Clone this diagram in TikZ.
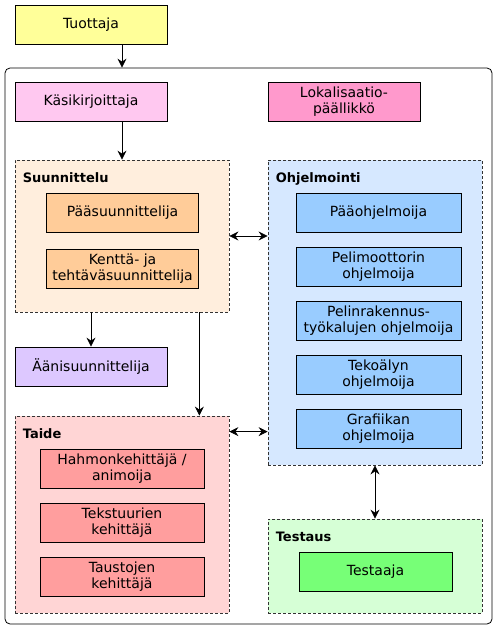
\documentclass[tikz,border=0pt]{standalone}
\usepackage{fontspec}
\setmainfont{DejaVu Sans}
\usetikzlibrary{arrows.meta}

\definecolor{tuotcol}{HTML}{FFFF99}
\definecolor{kasicol}{HTML}{FFC8F0}
\definecolor{lokacol}{HTML}{FF99CC}
\definecolor{suunbg}{HTML}{FFEEDD}
\definecolor{suuncol}{HTML}{FFCC99}
\definecolor{aanicol}{HTML}{DDC8FF}
\definecolor{taidebg}{HTML}{FFD5D5}
\definecolor{taidecol}{HTML}{FF9E9E}
\definecolor{ohjbg}{HTML}{D6E8FF}
\definecolor{ohjcol}{HTML}{99CCFF}
\definecolor{testbg}{HTML}{D6FFD6}
\definecolor{testcol}{HTML}{77FF77}

\begin{document}
\begin{tikzpicture}[x=1pt, y=-1pt]

\tikzstyle{role}=[rectangle, draw=black, line width=0.8pt, minimum width=152pt, minimum height=39pt, inner sep=0pt, align=center, font=\fontsize{14}{16.5}\selectfont]
\tikzstyle{group}=[rectangle, draw=black!80, line width=0.8pt, dash pattern=on 3pt off 2pt, minimum width=214pt, inner sep=0pt]
\tikzstyle{grouptitle}=[anchor=base west, inner sep=0pt, font=\fontsize{13}{16}\selectfont\bfseries]

\tikzstyle{connect}=[-{Stealth[length=9pt, width=9pt, inset=3pt]}, line width=0.8pt]
\tikzstyle{both}=[{Stealth[length=9pt, width=9pt, inset=3pt]}-{Stealth[length=9pt, width=9pt, inset=3pt]}, line width=0.8pt]

\useasboundingbox (0,0) rectangle (497,630);

\node[role, fill=tuotcol] (tuottaja) at (91,24.5) {Tuottaja};

\node[draw=black, line width=0.8pt, rounded corners=5pt, minimum width=487pt, minimum height=556pt, inner sep=0pt] (studio) at (248.5,346) {};

\node[role, fill=kasicol] (kasikirj) at (91,101.5) {Käsikirjoittaja};
\node[role, fill=lokacol] (lokal) at (344,101.5) {Lokalisaatio-\\päällikkö};

% suunnittelu
\node[group, fill=suunbg, minimum height=152pt] (suunn) at (122,236) {};
\node[grouptitle] (suunnT) at ([shift={(8pt,-23pt)}]suunn.north west) {Suunnittelu};
\node[role, fill=suuncol] (paasuunn) at (122.5,213) {Pääsuunnittelija};
\node[role, fill=suuncol] (kentta) at (122.5,268.5) {Kenttä- ja\\tehtäväsuunnittelija};

\node[role, fill=aanicol] (aani) at (91,366.5) {Äänisuunnittelija};

% taide
\node[group, fill=taidebg, minimum height=197pt] (taide) at (122,514.5) {};
\node[grouptitle] (taideT) at ([shift={(8pt,-23pt)}]taide.north west) {Taide};
\node[role, fill=taidecol, minimum width=164pt] (hahmo) at (122,468.5) {Hahmonkehittäjä /\\animoija};
\node[role, fill=taidecol, minimum width=164pt] (tekst) at (122,522.5) {Tekstuurien\\kehittäjä};
\node[role, fill=taidecol, minimum width=164pt] (taust) at (122,576.5) {Taustojen\\kehittäjä};

% ohjelmointi
\node[group, fill=ohjbg, minimum height=305pt] (ohjelm) at (375,312.5) {};
\node[grouptitle] (ohjelmT) at ([shift={(8pt,-23pt)}]ohjelm.north west) {Ohjelmointi};
\node[role, fill=ohjcol, minimum width=165pt] (paaohj) at (378.5,212.5) {Pääohjelmoija};
\node[role, fill=ohjcol, minimum width=165pt] (pelim) at (378.5,266.5) {Pelimoottorin\\ohjelmoija};
\node[role, fill=ohjcol, minimum width=165pt] (pelinr) at (378.5,320.5) {Pelinrakennus-\\työkalujen ohjelmoija};
\node[role, fill=ohjcol, minimum width=165pt] (tekoaly) at (378.5,374.5) {Tekoälyn\\ohjelmoija};
\node[role, fill=ohjcol, minimum width=165pt] (grafiikka) at (378.5,428.5) {Grafiikan\\ohjelmoija};

% testaus
\node[group, fill=testbg, minimum height=94pt] (testaus) at (375,566) {};
\node[grouptitle] (testausT) at ([shift={(8pt,-23pt)}]testaus.north west) {Testaus};
\node[role, fill=testcol, minimum width=153pt] (testaaja) at (375.5,571.5) {Testaaja};


\draw[connect] (tuottaja.south -| suunn) -- (studio.north -| suunn);
\draw[connect] (kasikirj.south -| suunn) -- (suunn.north);
\draw[connect] (suunn.south -| aani) -- (aani.north);
\draw[connect] ([xshift=-30pt]suunn.south east) -- ([xshift=-30pt]taide.north east);

\draw[both] (suunn.east) -- (suunn.east -| ohjelm.west);
\draw[both] ([yshift=-16pt]taide.north east) -- ([yshift=-16pt]taide.north east -| ohjelm.west);
\draw[both] (ohjelm.south) -- (testaus.north);

\end{tikzpicture}
\end{document}
